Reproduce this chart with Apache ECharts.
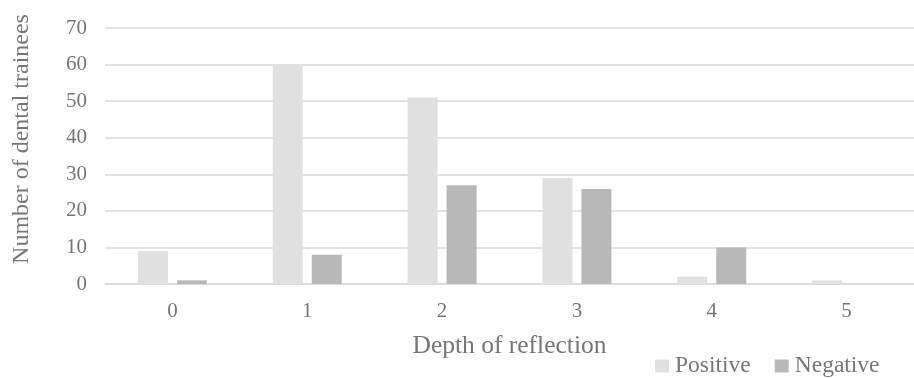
<!DOCTYPE html>
<html>
<head>
<meta charset="utf-8">
<script src="https://cdn.jsdelivr.net/npm/echarts@6/dist/echarts.min.js"></script>
<style>
html,body{margin:0;padding:0;background:#fff;}
#chart{width:914px;height:378px;}
</style>
</head>
<body>
<div id="chart"></div>
<script>
const categories = ['0', '1', '2', '3', '4', '5'];
const positiveValues = [9, 60, 51, 29, 2, 1];
const negativeValues = [1, 8, 27, 26, 10, 0];
const yTicks = { min: 0, max: 70, interval: 10 };

const chart = echarts.init(document.getElementById('chart'), null, { renderer: 'canvas' });
const font = 'Liberation Serif';
const textColor = '#767676';
chart.setOption({
  animation: false,
  backgroundColor: '#ffffff',
  textStyle: { fontFamily: font },
  grid: { left: 105, top: 28, width: 813, height: 256, containLabel: false },
  legend: {
    left: 650, top: 349,
    itemWidth: 14, itemHeight: 13, itemGap: 24,
    icon: 'rect',
    textStyle: { fontFamily: font, fontSize: 23.5, color: textColor, padding: [0, 0, 0, 1] },
    data: ['Positive', 'Negative']
  },
  xAxis: {
    type: 'category',
    data: categories,
    name: 'Depth of reflection',
    nameLocation: 'middle',
    nameGap: 49,
    nameTextStyle: { fontFamily: font, fontSize: 25.5, color: textColor },
    axisLine: { lineStyle: { color: '#d9d9d9', width: 1.5 } },
    axisTick: { show: false },
    axisLabel: { fontFamily: font, fontSize: 21, color: textColor, margin: 17 }
  },
  yAxis: {
    type: 'value',
    min: yTicks.min, max: yTicks.max, interval: yTicks.interval,
    name: 'Number of dental trainees',
    nameLocation: 'middle',
    nameGap: 71,
    nameTextStyle: { fontFamily: font, fontSize: 24, color: textColor, padding: [0, 0, 0, 34] },
    axisLine: { show: false },
    axisTick: { show: false },
    splitLine: { lineStyle: { color: '#d9d9d9', width: 1.5 } },
    axisLabel: { fontFamily: font, fontSize: 21, color: textColor, margin: 18 }
  },
  series: [
    { name: 'Positive', type: 'bar', data: positiveValues, barWidth: 30, barGap: '30%',
      itemStyle: { color: '#e0e0e0' } },
    { name: 'Negative', type: 'bar', data: negativeValues, barWidth: 30, barGap: '30%',
      itemStyle: { color: '#b8b8b8' } }
  ]
});
</script>
</body>
</html>
